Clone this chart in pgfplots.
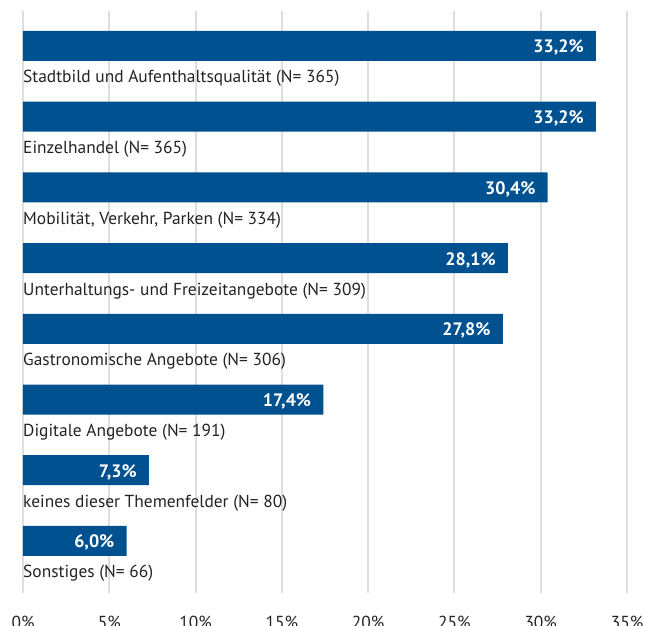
\documentclass[border=0pt]{standalone}
\usepackage{fontspec}
\setmainfont{PT Sans}
\usepackage{pgfplots}
\pgfplotsset{compat=1.18}
\definecolor{barblue}{RGB}{0,81,143}
\definecolor{gridgray}{RGB}{222,222,222}
\definecolor{txt}{RGB}{35,35,35}

\begin{document}
\begin{tikzpicture}
\begin{axis}[
  name=ax,
  scale only axis,
  width=604pt, height=582pt,
  xbar, bar width=30pt,
  xmin=0, xmax=35,
  ymin=-0.495, ymax=7.737,
  y dir=reverse,
  axis line style={draw=none},
  tick style={draw=none},
  xtick={0,5,...,35},
  ytick=\empty,
  xmajorgrids,
  grid style={gridgray, line width=2pt},
  major tick length=0pt,
  /pgf/number format/assume math mode=true,
  xticklabel={\pgfmathprintnumber{\tick}\%},
  xticklabel style={font=\fontsize{17.4}{20}\selectfont, text=txt, anchor=base, yshift=-35pt},
  point meta=x,
  nodes near coords={\pgfmathprintnumber[fixed,fixed zerofill,precision=1,use comma]{\pgfplotspointmeta}\%},
  nodes near coords style={anchor=base east, inner sep=0pt, xshift=-12pt, yshift=-7pt,
    text=white, font=\bfseries\fontsize{18}{21}\selectfont},
  clip=false,
]
\addplot[fill=barblue, draw=none] coordinates {
  (33.2,0) (33.2,1) (30.4,2) (28.1,3) (27.8,4) (17.4,5) (7.3,6) (6.0,7)};
\tikzset{lab/.style={anchor=base west, inner sep=0pt, yshift=-37pt, text=txt, font=\fontsize{17.4}{20}\selectfont}}
\node[lab] at (axis cs:0,0) {Stadtbild und Aufenthaltsqualität (N= 365)};
\node[lab] at (axis cs:0,1) {Einzelhandel (N= 365)};
\node[lab] at (axis cs:0,2) {Mobilität, Verkehr, Parken (N= 334)};
\node[lab] at (axis cs:0,3) {Unterhaltungs- und Freizeitangebote (N= 309)};
\node[lab] at (axis cs:0,4) {Gastronomische Angebote (N= 306)};
\node[lab] at (axis cs:0,5) {Digitale Angebote (N= 191)};
\node[lab] at (axis cs:0,6) {keines dieser Themenfelder (N= 80)};
\node[lab] at (axis cs:0,7) {Sonstiges (N= 66)};
\end{axis}
\pgfresetboundingbox
\path[use as bounding box] ([xshift=-23pt,yshift=-32pt]ax.south west) rectangle ([xshift=18pt,yshift=11pt]ax.north east);
\end{tikzpicture}
\end{document}
